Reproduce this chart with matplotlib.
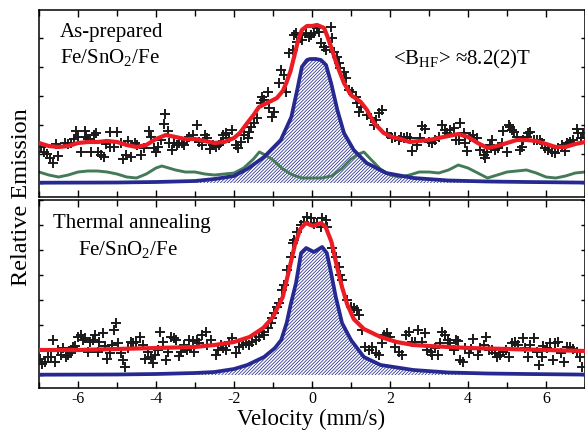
import matplotlib
matplotlib.use("Agg")
import matplotlib.pyplot as plt
from matplotlib.ticker import MultipleLocator

plt.rcParams['font.family'] = ['Liberation Serif', 'DejaVu Serif']
plt.rcParams['mathtext.fontset'] = 'custom'
plt.rcParams['mathtext.rm'] = 'Liberation Serif'
plt.rcParams['mathtext.it'] = 'Liberation Serif:italic'
plt.rcParams['axes.unicode_minus'] = False
plt.rcParams['hatch.linewidth'] = 0.55

RED = '#ec1c24'
BLUE = '#26298f'
GREEN = '#457a58'
plt.rcParams['hatch.color'] = BLUE

# ---------------- top panel (as-prepared) ----------------
top_pts_v = [-6.96, -6.87, -6.79, -6.73, -6.64, -6.56, -6.51, -6.34, -6.26, -6.19, -6.10, -6.04, -6.00, -5.92,
             -5.83, -5.79, -5.75, -5.66, -5.58, -5.53, -5.49, -5.40, -5.34, -5.28, -5.19, -5.17, -5.08, -4.99,
             -4.89, -4.85, -4.76, -4.72, -4.64, -4.55, -4.48, -4.38, -4.30, -4.17, -4.13, -4.04, -4.00, -3.94,
             -3.87, -3.80, -3.76, -3.70, -3.66, -3.60, -3.53, -3.46, -3.40, -3.34, -3.29, -3.21, -3.15, -3.04,
             -2.95, -2.89, -2.81, -2.74, -2.68, -2.61, -2.55, -2.46, -2.38, -2.34, -2.29,
             -2.21, -2.12, -2.04, -1.95, -1.91, -1.82, -1.74, -1.65, -1.61, -1.57, -1.48, -1.40, -1.31, -1.27,
             -1.23, -1.14, -1.10, -1.02, -0.97, -0.84, -0.80, -0.72, -0.67, -0.59, -0.50, -0.46, -0.42, -0.38,
             -0.29, -0.25, -0.16, -0.08, -0.03, 0.05, 0.14, 0.18, 0.22, 0.31, 0.35, 0.48, 0.52, 0.56, 0.65,
             0.69, 0.73, 0.82, 0.86, 0.95, 1.03, 1.12, 1.16, 1.20, 1.25, 1.41, 1.50, 1.59, 1.63, 1.71, 1.80,
             1.93, 2.05, 2.14, 2.23,
             2.27, 2.35, 2.44, 2.52, 2.57, 2.69, 2.78, 2.82, 2.91, 2.99, 3.08, 3.16, 3.25, 3.33, 3.42, 3.46,
             3.55, 3.63, 3.68, 3.76, 3.80, 3.89, 3.93, 3.97, 4.06, 4.14, 4.23, 4.31, 4.40, 4.44, 4.48, 4.57,
             4.61, 4.70, 4.78, 4.87, 4.91, 5.00, 5.04, 5.08, 5.12, 5.17, 5.25, 5.34, 5.38, 5.42, 5.51, 5.55,
             5.59, 5.68, 5.76, 5.85, 5.89, 5.98, 6.06, 6.15, 6.23, 6.32, 6.40, 6.49, 6.53, 6.62, 6.70, 6.79,
             6.83, 6.90, 6.96]
top_pts_y = [36, 31, 29, 25, 20, 39, 27, 40, 39, 40, 44, 52, 46, 31,
             52, 46, 44, 31, 48, 50, 31, 28, 26, 39, 36, 51, 36, 51,
             40, 24, 28, 42, 26, 40, 38, 28, 35, 52, 46, 35, 31, 36,
             43, 59, 69, 52, 40, 33, 40, 38, 40, 40, 38, 44, 46, 48,
             58, 41, 38, 48, 45, 34, 38, 36, 38, 41, 48,
             50, 45, 53, 38, 35, 41, 48, 45, 51, 56, 60, 65, 80, 86,
             83, 91, 75, 66, 71, 100, 113, 108, 91, 130, 133, 148, 150, 141,
             148, 143, 150, 146, 148, 150, 155, 151, 140, 136, 133, 156, 145, 131, 126,
             120, 115, 111, 105, 93, 91, 86, 80, 71, 76, 68, 65, 58, 63, 70, 73,
             50, 45, 46, 43,
             46, 45, 46, 45, 32, 38, 45, 57, 54, 41, 40, 43, 46, 58, 53, 50,
             53, 55, 43, 43, 60, 50, 40, 32, 46, 48, 45, 33, 28, 25, 31, 38,
             43, 33, 35, 40, 52, 31, 58, 56, 53, 51, 46, 33, 36, 43, 46, 50,
             51, 43, 43, 43, 40, 35, 33, 31, 30, 35, 38, 32, 40, 41, 43, 54,
             50, 45, 50]

top_fit_v = [-7.0, -6.75, -6.5, -6.25, -6.0, -5.75, -5.5, -5.25, -5.0, -4.75, -4.5, -4.25, -4.0, -3.75,
             -3.5, -3.25, -3.0, -2.75, -2.5, -2.25, -2.0, -1.85, -1.66, -1.5, -1.36, -1.15, -0.9, -0.75,
             -0.66, -0.55, -0.46, -0.36, -0.26, -0.13, 0.0, 0.13, 0.31, 0.4, 0.49, 0.64, 0.82, 1.0, 1.25,
             1.41, 1.59, 1.84, 2.05, 2.28, 2.5, 2.75, 3.0, 3.25, 3.5, 3.75, 4.0, 4.25, 4.5, 4.75, 5.0,
             5.25, 5.5, 5.75, 6.0, 6.25, 6.5, 6.75, 7.0]
top_fit_y = [40, 37, 36, 37, 40, 41, 41, 42, 41, 38, 36, 38, 44, 48,
             46, 44, 44, 42, 40, 41, 45, 50, 60, 68, 76, 80, 85, 92,
             100, 112, 126, 142, 153, 157, 157, 158, 155, 146, 136, 118, 100, 88, 81,
             73, 60, 50, 46, 44, 41, 42, 43, 45, 47, 49, 46, 40, 35, 37, 40,
             43, 43, 42, 39, 36, 36, 39, 41]

top_sub1_v = [-7.0, -5.0, -4.0, -3.0, -2.5, -2.0, -1.66, -1.23, -0.8, -0.53, -0.38, -0.26, -0.13, -0.05,
              0.1, 0.23, 0.36, 0.49, 0.65, 0.82, 1.07, 1.4, 1.9, 2.6, 3.5, 4.5, 5.5, 7.0]
top_sub1_y = [0.3, 0.5, 1, 2, 4, 7, 14, 26, 43, 66, 93, 116, 123, 124,
              124, 123, 118, 100, 73, 50, 33, 20, 10, 5, 2.5, 1.5, 1, 0.4]

top_sub2_v = [-7.0, -6.75, -6.5, -6.25, -6.0, -5.75, -5.5, -5.25, -5.0, -4.75, -4.5, -4.25, -4.0, -3.85,
              -3.5, -3.25, -3.0, -2.75, -2.5, -2.25, -2.0, -1.75, -1.5, -1.35, -1.2, -1.0, -0.75, -0.5,
              -0.25, 0.0, 0.25, 0.5, 0.75, 1.0, 1.2, 1.33, 1.5, 1.75, 2.0, 2.25, 2.5, 2.75, 3.0, 3.25,
              3.5, 3.75, 4.0, 4.25, 4.5, 4.75, 5.0, 5.25, 5.5, 5.75, 6.0, 6.25, 6.5, 6.75, 7.0]
top_sub2_y = [11, 8, 6, 8, 11, 12, 12, 11, 9, 6, 5, 9, 15, 17,
              13, 11, 11, 9, 8, 9, 10, 15, 24, 31, 28, 23, 14, 8,
              5, 5, 5, 7, 14, 24, 29, 31, 24, 14, 8, 6, 8, 11, 11, 10,
              13, 18, 15, 10, 5, 8, 11, 12, 13, 10, 6, 5, 7, 10, 11]

# ---------------- bottom panel (thermal annealing) ----------------
bot_pts_v = [-6.98, -6.92, -6.85, -6.77, -6.70, -6.64, -6.58, -6.51, -6.44, -6.39, -6.30, -6.26, -6.19, -6.13,
             -6.07, -6.00, -5.93, -5.87, -5.81, -5.75, -5.68, -5.62, -5.56, -5.49, -5.45, -5.36, -5.32, -5.25,
             -5.19, -5.13, -5.08, -5.02, -4.98, -4.91, -4.85, -4.79, -4.72, -4.65, -4.60, -4.51, -4.42, -4.34,
             -4.27, -4.21, -4.14, -4.08, -4.02, -3.96, -3.89, -3.83, -3.74, -3.70, -3.61, -3.55, -3.49, -3.40,
             -3.36, -3.27, -3.20, -3.15, -3.06, -3.02, -2.95, -2.89, -2.81, -2.72, -2.68, -2.58, -2.46, -2.40,
             -2.34,
             -2.29, -2.21, -2.12, -2.04, -1.95, -1.87, -1.78, -1.70, -1.61, -1.53, -1.44, -1.36, -1.27, -1.23,
             -1.14, -1.06, -1.02, -0.97, -0.89, -0.84, -0.76, -0.72, -0.63, -0.55, -0.50, -0.46, -0.38, -0.29,
             -0.20, -0.12, -0.03, 0.05, 0.14, 0.22, 0.26, 0.35, 0.39, 0.52, 0.61, 0.69, 0.73, 0.78, 0.90,
             0.99, 1.07, 1.16, 1.20, 1.29, 1.37, 1.46, 1.54, 1.63, 1.71, 1.80, 1.84, 1.93, 2.01, 2.14, 2.23,
             2.31, 2.40, 2.48,
             2.57, 2.65, 2.72, 2.82, 2.89, 2.95, 3.04, 3.08, 3.15, 3.23, 3.29, 3.33, 3.42, 3.49, 3.55, 3.63,
             3.69, 3.74, 3.80, 3.86, 3.93, 4.02, 4.08, 4.14, 4.25, 4.31, 4.40, 4.46, 4.53, 4.61, 4.70, 4.74,
             4.83, 4.91, 4.97, 5.04, 5.12, 5.21, 5.29, 5.40, 5.47, 5.53, 5.59, 5.68, 5.76, 5.82, 5.89, 5.93,
             6.02, 6.10, 6.19, 6.23, 6.30, 6.39, 6.45, 6.53, 6.62, 6.70, 6.79, 6.87, 6.93]
bot_pts_y = [16, 11, 13, 18, 18, 35, 13, 25, 20, 27, 18, 20, 22, 28,
             29, 38, 40, 35, 37, 23, 33, 35, 40, 23, 33, 42, 29, 16,
             22, 30, 45, 52, 32, 22, 15, 8, 27, 33, 32, 33, 38, 30,
             16, 23, 18, 12, 20, 25, 43, 33, 15, 23, 38, 37, 35, 19,
             23, 30, 25, 35, 34, 23, 35, 32, 40, 43, 30, 35, 20, 25,
             30,
             27, 25, 33, 37, 22, 28, 30, 32, 30, 33, 35, 38, 43, 40,
             47, 52, 57, 62, 68, 72, 85, 90, 105, 118, 132, 135, 143, 150,
             153, 158, 157, 151, 152, 148, 157, 155, 148, 127, 118, 108, 100, 95, 75,
             68, 67, 65, 60, 45, 28, 25, 28, 22, 20, 32, 40, 42, 38, 28, 23,
             20, 40, 43,
             33, 33, 45, 33, 42, 25, 23, 20, 27, 20, 32, 43, 40, 35, 32, 25,
             35, 34, 15, 13, 27, 22, 26, 36, 20, 27, 30, 38, 25, 25, 22, 18,
             20, 23, 25, 18, 32, 33, 30, 37, 27, 18, 30, 37, 23, 10, 18, 29,
             27, 32, 15, 32, 33, 22, 13, 28, 28, 26, 23, 18, 8]

bot_fit_v = [-7.0, -6.0, -5.0, -4.0, -3.0, -2.5, -2.0, -1.6, -1.25, -1.0, -0.75, -0.6, -0.44, -0.3,
             -0.16, 0.03, 0.23, 0.35, 0.5, 0.63, 0.77, 0.9, 1.07, 1.33, 1.76, 2.17, 2.6, 3.0, 4.0, 5.0,
             6.0, 7.0]
bot_fit_y = [25, 25, 26, 27, 28, 30, 33, 38, 47, 58, 78, 103, 130, 146,
             152, 149, 152, 148, 133, 110, 88, 71, 56, 46, 38, 33, 30, 29, 27, 26,
             25, 24]

bot_sub_v = [-7.0, -5.0, -4.0, -3.0, -2.5, -2.0, -1.66, -1.23, -0.95, -0.79, -0.65, -0.55, -0.41, -0.28,
             -0.15, 0.05, 0.26, 0.38, 0.49, 0.61, 0.77, 1.0, 1.33, 1.76, 2.6, 3.5, 4.5, 5.5, 7.0]
bot_sub_y = [0.3, 0.5, 1, 2, 3, 6, 10, 18, 27, 35, 52, 70, 92, 122,
             127, 123, 128, 122, 102, 78, 52, 35, 18, 10, 5, 2.5, 1.5, 1, 0.4]

x_ticks = [-6, -4, -2, 0, 2, 4, 6]
x_ticklabels = ['-6', '-4', '-2', '0', '2', '4', '6']

W, H = 585.0, 430.0
fig = plt.figure(figsize=(W / 100, H / 100), dpi=100)
ax1 = fig.add_axes([39 / W, 1 - 197 / H, 546 / W, 187 / H])
ax2 = fig.add_axes([39 / W, 1 - 388 / H, 546 / W, 188 / H])


def draw(ax, pv, py, fv, fy, subs, green=None):
    sv, sy = subs
    ax.fill_between(sv, 0, sy, facecolor='none', edgecolor=BLUE, hatch='//////////', linewidth=0, zorder=1)
    ax.plot(sv, sy, color=BLUE, lw=2.7, solid_joinstyle='round', zorder=3)
    if green is not None:
        ax.plot(green[0], green[1], color=GREEN, lw=2.1, solid_joinstyle='round', zorder=2)
    ax.plot(pv, py, linestyle='none', marker='+', ms=6.5, mew=1.4, color='#1a1a1a', zorder=4)
    ax.plot(fv, fy, color=RED, lw=3.0, solid_joinstyle='round', solid_capstyle='round', zorder=5)
    ax.set_xlim(-7, 7)
    ax.xaxis.set_major_locator(MultipleLocator(2))
    ax.xaxis.set_minor_locator(MultipleLocator(1))
    ax.tick_params(which='both', direction='in', top=True, right=True, labelleft=False)
    ax.tick_params(which='major', length=5, width=1.0)
    ax.tick_params(which='minor', length=4, width=1.0)
    for s in ax.spines.values():
        s.set_linewidth(1.1)


draw(ax1, top_pts_v, top_pts_y, top_fit_v, top_fit_y, (top_sub1_v, top_sub1_y), (top_sub2_v, top_sub2_y))
draw(ax2, bot_pts_v, bot_pts_y, bot_fit_v, bot_fit_y, (bot_sub_v, bot_sub_y))

ax1.set_ylim(-14, 173)
ax2.set_ylim(-13, 175)
ax1.yaxis.set_major_locator(MultipleLocator(29))
ax1.yaxis.set_minor_locator(MultipleLocator(29))
ax2.yaxis.set_major_locator(MultipleLocator(25))
ax2.yaxis.set_minor_locator(MultipleLocator(25))
ax1.tick_params(axis='y', which='both', length=3)
ax2.tick_params(axis='y', which='both', length=3)
ax1.tick_params(labelbottom=False)
ax2.set_xticks(x_ticks)
ax2.set_xticklabels(x_ticklabels, fontsize=11.5)
ax2.tick_params(axis='x', pad=2.5)

ax1.text(0.0385, 0.857, 'As-prepared', transform=ax1.transAxes, fontsize=15, va='baseline', ha='left')
ax1.text(0.0385, 0.715, 'Fe/SnO$_2$/Fe', transform=ax1.transAxes, fontsize=15, va='baseline', ha='left')
ax1.text(0.648, 0.706, '<B$_{\\mathrm{HF}}$> \u22488.2(2)T', transform=ax1.transAxes, fontsize=15,
         va='baseline', ha='left')
ax2.text(0.0256, 0.849, 'Thermal annealing', transform=ax2.transAxes, fontsize=15, va='baseline', ha='left')
ax2.text(0.0714, 0.707, 'Fe/SnO$_2$/Fe', transform=ax2.transAxes, fontsize=15, va='baseline', ha='left')

fig.text(311 / W, 1 - 425 / H, 'Velocity (mm/s)', fontsize=16.5, ha='center', va='baseline')
fig.text(22 / W, 1 - 197 / H, 'Relative Emission', fontsize=17.5, ha='center', va='center', rotation=90)

fig.savefig('out.png', dpi=100)
